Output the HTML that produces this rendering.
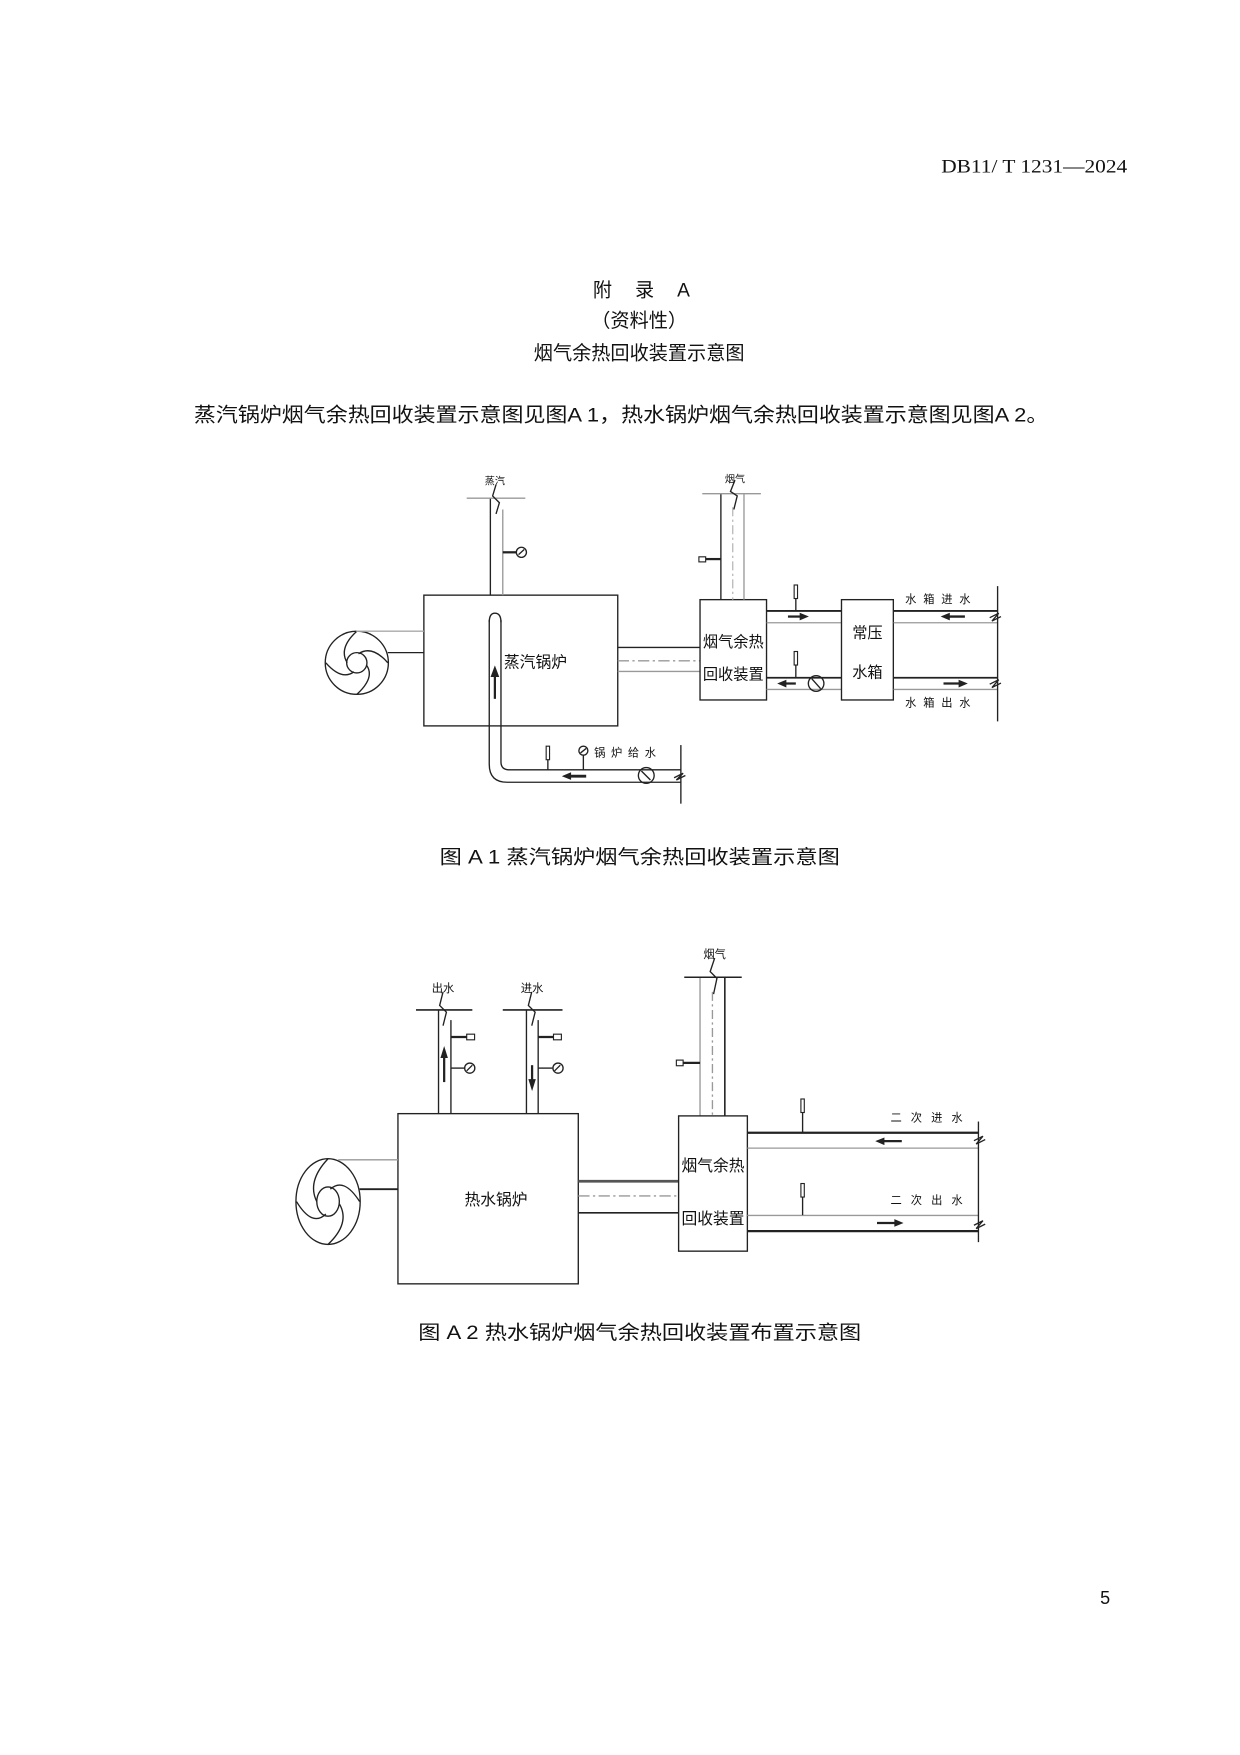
<!DOCTYPE html>
<html><head><meta charset="utf-8"><style>
html,body{margin:0;padding:0;background:#fff}
svg{display:block}
text{font-family:"Liberation Sans","Noto Sans CJK SC",sans-serif;fill:#111}
</style></head><body>
<svg width="1240" height="1755" viewBox="0 0 1100 1557" xmlns="http://www.w3.org/2000/svg">
<text x="1000" y="153" font-size="17" text-anchor="end" textLength="165" lengthAdjust="spacingAndGlyphs" style="font-family:'Liberation Serif','Noto Serif CJK SC',serif">DB11/ T 1231—2024</text>
<text x="526" y="263" font-size="17" textLength="86" lengthAdjust="spacing">附 录 A</text>
<text x="567" y="290" font-size="17" text-anchor="middle">（资料性）</text>
<text x="567" y="319" font-size="17" text-anchor="middle">烟气余热回收装置示意图</text>
<text x="172" y="374" font-size="17.5" textLength="758" lengthAdjust="spacingAndGlyphs">蒸汽锅炉烟气余热回收装置示意图见图A 1，热水锅炉烟气余热回收装置示意图见图A 2。</text>
<text x="390" y="766" font-size="17" textLength="355" lengthAdjust="spacingAndGlyphs">图 A 1  蒸汽锅炉烟气余热回收装置示意图</text>
<text x="371" y="1188" font-size="17" textLength="393" lengthAdjust="spacingAndGlyphs">图 A 2  热水锅炉烟气余热回收装置布置示意图</text>
<text x="976" y="1423" font-size="16">5</text>

<g stroke="#222" fill="none" stroke-width="1.2">
<rect x="376" y="528" width="172" height="116"/>
<circle cx="316.5" cy="588" r="28"/>
<circle cx="316.5" cy="588" r="9"/>
<path d="M316.5 560 Q300 575 308 588 M344 588 Q330 572 318 580 M316.5 616 Q333 601 325 590 M289 588 Q303 604 314 596"/>
<line x1="316" y1="560" x2="376" y2="560" stroke="#aaa"/>
<line x1="344" y1="579" x2="376" y2="579"/>
<line x1="435" y1="442" x2="435" y2="528"/>
<line x1="446" y1="452" x2="446" y2="528" stroke="#999"/>
<line x1="414" y1="442" x2="466" y2="442" stroke="#999"/>
<path d="M440 430 L437 440 L443 446 L440 456"/>
<line x1="446" y1="490" x2="458" y2="490" stroke-width="2"/>
<circle cx="462.5" cy="490" r="4.5"/><line x1="460" y1="492" x2="465" y2="487.5"/>
<path d="M434 550 L434 678 Q434 694 450 694 L604 694"/>
<path d="M444.4 550 L444.4 676 Q444.4 683 452 683 L604 683"/>
<path d="M434 552 Q434 544 439 544 Q444.4 544 444.4 552" />
<line x1="439" y1="598" x2="439" y2="620" stroke-width="2"/><path d="M436 600 L439 592 L442 600Z" fill="#222"/>
<line x1="604" y1="661" x2="604" y2="713"/>
<path d="M598 690 L606 686 L600 692 L608 688" />
<rect x="484.5" y="662" width="3" height="12" stroke-width="1"/><line x1="486" y1="674" x2="486" y2="683"/>
<circle cx="517.5" cy="666" r="4"/><line x1="517.5" y1="670" x2="517.5" y2="683"/><line x1="515" y1="668" x2="520" y2="664"/>
<line x1="503" y1="688.6" x2="520" y2="688.6" stroke-width="2.5"/><path d="M500 688.6 L506 686 L506 691Z" fill="#222"/>
<circle cx="573.3" cy="688" r="7"/><line x1="569" y1="684" x2="577" y2="692"/>
<line x1="548" y1="574.4" x2="621" y2="574.4"/>
<line x1="548" y1="586.3" x2="621" y2="586.3" stroke="#999" stroke-dasharray="10,3,2,3"/>
<line x1="548" y1="595.7" x2="621" y2="595.7" stroke="#999"/>
<rect x="621" y="532" width="59" height="89"/>
<line x1="639.5" y1="438" x2="639.5" y2="532"/>
<line x1="660" y1="438" x2="660" y2="532" stroke="#999"/>
<line x1="650" y1="450" x2="650" y2="532" stroke="#bbb" stroke-dasharray="8,3,2,3"/>
<line x1="623" y1="438" x2="675" y2="438" stroke="#999"/>
<path d="M652 426 L648 436 L654 440 L651 452"/>
<rect x="620" y="494" width="6" height="4.5" stroke-width="1"/><line x1="626" y1="496" x2="639.5" y2="496" stroke-width="2"/>
<line x1="680" y1="542" x2="746.5" y2="542" stroke-width="1.6"/>
<line x1="680" y1="552.5" x2="746.5" y2="552.5" stroke="#999"/>
<line x1="680" y1="601.3" x2="746.5" y2="601.3" stroke-width="1.6"/>
<line x1="680" y1="611.7" x2="746.5" y2="611.7" stroke="#999"/>
<rect x="704.5" y="519" width="3" height="12" stroke-width="1"/><line x1="706" y1="531" x2="706" y2="542"/>
<rect x="704.5" y="578" width="3" height="12" stroke-width="1"/><line x1="706" y1="590" x2="706" y2="601"/>
<line x1="699" y1="547" x2="712" y2="547" stroke-width="2"/><path d="M716 547 L710 544.5 L710 549.5Z" fill="#222"/>
<line x1="695" y1="606.4" x2="706" y2="606.4" stroke-width="2"/><path d="M691 606.4 L697 604 L697 609Z" fill="#222"/>
<circle cx="724" cy="606.4" r="6.9"/><line x1="720" y1="602" x2="728" y2="611"/>
<rect x="746.5" y="532" width="46" height="89"/>
<line x1="792.7" y1="542" x2="885" y2="542" stroke-width="1.6"/>
<line x1="792.7" y1="552.5" x2="885" y2="552.5" stroke="#999"/>
<line x1="792.7" y1="601.3" x2="885" y2="601.3" stroke-width="1.6"/>
<line x1="792.7" y1="611.7" x2="885" y2="611.7" stroke="#999"/>
<line x1="885" y1="520" x2="885" y2="640"/>
<path d="M878 548 L886 544 L880 551 L888 547 M878 607 L886 603 L880 610 L888 606"/>
<line x1="840" y1="547" x2="856" y2="547" stroke-width="2"/><path d="M836 547 L842 544.5 L842 549.5Z" fill="#222"/>
<line x1="837" y1="606.4" x2="853" y2="606.4" stroke-width="2"/><path d="M857 606.4 L851 604 L851 609Z" fill="#222"/>

<rect x="353" y="988" width="160" height="151"/>
<ellipse cx="291" cy="1066" rx="28.5" ry="38"/>
<ellipse cx="291" cy="1066" rx="10" ry="13"/>
<path d="M291 1028 Q272 1048 281 1066 M319 1066 Q305 1044 293 1055 M291 1104 Q311 1085 301 1068 M263 1066 Q277 1089 289 1077"/>
<line x1="300" y1="1029" x2="353" y2="1029" stroke="#999"/>
<line x1="319" y1="1055" x2="353" y2="1055" stroke-width="1.6"/>
<line x1="389" y1="896" x2="389" y2="988"/>
<line x1="400" y1="905" x2="400" y2="988"/>
<line x1="369" y1="896" x2="419" y2="896" stroke-width="1.5"/>
<path d="M393 880 L390 892 L396 898 L393 910"/>
<line x1="400" y1="920" x2="414" y2="920" stroke-width="2"/><rect x="414" y="917.5" width="7" height="5" stroke-width="1"/>
<line x1="394" y1="936" x2="394" y2="960" stroke-width="2"/><path d="M391.5 938 L394 930 L396.5 938Z" fill="#222"/>
<line x1="400" y1="947.6" x2="412" y2="947.6"/><circle cx="416.7" cy="947.6" r="4.5"/><line x1="414" y1="950" x2="419" y2="945"/>
<line x1="467" y1="896" x2="467" y2="988"/>
<line x1="477.4" y1="905" x2="477.4" y2="988"/>
<line x1="446" y1="896" x2="499" y2="896" stroke-width="1.5"/>
<path d="M471.7 880 L468.7 892 L474.7 898 L471.7 910"/>
<line x1="477.4" y1="920" x2="491" y2="920" stroke-width="2"/><rect x="491" y="917.5" width="7" height="5" stroke-width="1"/>
<line x1="472" y1="945" x2="472" y2="962" stroke-width="2"/><path d="M469.5 958 L472 966 L474.5 958Z" fill="#222"/>
<line x1="477.4" y1="947.6" x2="490" y2="947.6"/><circle cx="495" cy="947.6" r="4.5"/><line x1="492" y1="950" x2="497" y2="945"/>
<line x1="621" y1="867" x2="621" y2="990" stroke="#999"/>
<line x1="643" y1="867" x2="643" y2="990" stroke-width="1.4"/>
<line x1="632" y1="880" x2="632" y2="990" stroke="#999" stroke-dasharray="8,3,2,3"/>
<line x1="607" y1="867" x2="658" y2="867" stroke-width="1.4"/>
<path d="M634 850 L630 862 L636 868 L633 882"/>
<rect x="600" y="940.5" width="6" height="5" stroke-width="1"/><line x1="606" y1="943" x2="621" y2="943" stroke-width="2"/>
<line x1="513" y1="1048" x2="602" y2="1048" stroke-width="2.4" stroke="#555"/>
<line x1="513" y1="1061" x2="602" y2="1061" stroke="#999" stroke-dasharray="10,3,2,3"/>
<line x1="513" y1="1076" x2="602" y2="1076" stroke-width="1.5"/>
<rect x="602" y="990" width="61" height="120"/>
<line x1="663" y1="1005" x2="868" y2="1005" stroke-width="2"/>
<line x1="663" y1="1018.6" x2="868" y2="1018.6" stroke="#999"/>
<line x1="663" y1="1078.3" x2="868" y2="1078.3" stroke="#999"/>
<line x1="663" y1="1092.2" x2="868" y2="1092.2" stroke-width="2"/>
<line x1="868" y1="995" x2="868" y2="1102"/>
<path d="M864 1012 L872 1008 L866 1015 L874 1011 M864 1087 L872 1083 L866 1090 L874 1086"/>
<rect x="710.5" y="975" width="3" height="12" stroke-width="1"/><line x1="712" y1="987" x2="712" y2="1005"/>
<rect x="710.5" y="1050" width="3" height="12" stroke-width="1"/><line x1="712" y1="1062" x2="712" y2="1078"/>
<line x1="782" y1="1012.4" x2="800" y2="1012.4" stroke-width="2"/><path d="M778 1012.4 L784 1010 L784 1015Z" fill="#222"/>
<line x1="778" y1="1085" x2="796" y2="1085" stroke-width="2"/><path d="M800 1085 L794 1082.5 L794 1087.5Z" fill="#222"/>
</g>

<g font-size="10">
<text x="439" y="430" text-anchor="middle" font-size="9">蒸汽</text>
<text x="652" y="428" text-anchor="middle" font-size="9">烟气</text>
<text x="475" y="592" text-anchor="middle" font-size="14">蒸汽锅炉</text>
<text x="650.5" y="574" text-anchor="middle" font-size="13.5">烟气余热</text>
<text x="650.5" y="603" text-anchor="middle" font-size="13.5">回收装置</text>
<text x="769.5" y="566" text-anchor="middle" font-size="13.5">常压</text>
<text x="769.5" y="601" text-anchor="middle" font-size="13.5">水箱</text>
<text x="803" y="535" font-size="10" letter-spacing="6">水箱进水</text>
<text x="803" y="627" font-size="10" letter-spacing="6">水箱出水</text>
<text x="527" y="671" font-size="10" letter-spacing="5">锅炉给水</text>
<text x="393" y="880" text-anchor="middle" font-size="10">出水</text>
<text x="472" y="880" text-anchor="middle" font-size="10">进水</text>
<text x="634" y="850" text-anchor="middle" font-size="10">烟气</text>
<text x="440" y="1069" text-anchor="middle" font-size="14">热水锅炉</text>
<text x="632.5" y="1039" text-anchor="middle" font-size="14">烟气余热</text>
<text x="632.5" y="1086" text-anchor="middle" font-size="14">回收装置</text>
<text x="790" y="995" font-size="10" letter-spacing="8">二次进水</text>
<text x="790" y="1068" font-size="10" letter-spacing="8">二次出水</text>
</g>
</svg>
</body></html>
